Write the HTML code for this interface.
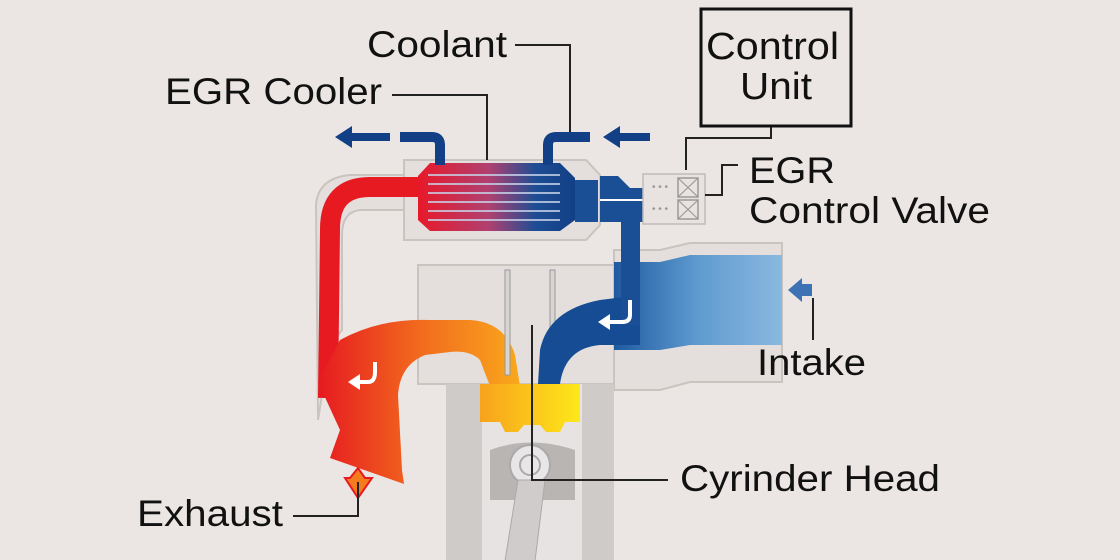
<!DOCTYPE html>
<html><head><meta charset="utf-8"><style>
html,body{margin:0;padding:0;background:#ebe6e3;}
svg{display:block;}
text{font-family:"Liberation Sans",sans-serif;fill:#111;}
</style></head><body>
<svg width="1120" height="560" viewBox="0 0 1120 560" xmlns="http://www.w3.org/2000/svg">
<defs>
<linearGradient id="cool" x1="0" x2="1" y1="0" y2="0">
<stop offset="0" stop-color="#e8192a"/><stop offset="0.45" stop-color="#b04070"/><stop offset="0.75" stop-color="#1d4d94"/><stop offset="1" stop-color="#123f85"/></linearGradient>
<linearGradient id="exh" x1="0" x2="1" y1="0" y2="0">
<stop offset="0" stop-color="#e61a20"/><stop offset="0.5" stop-color="#f26a1e"/><stop offset="1" stop-color="#f9a81c"/></linearGradient>
<linearGradient id="cham" x1="0" x2="1"><stop offset="0" stop-color="#f8a21c"/><stop offset="1" stop-color="#fde81a"/></linearGradient>
<linearGradient id="intk" x1="0" x2="1"><stop offset="0" stop-color="#1f5aa0"/><stop offset="0.5" stop-color="#5f9bd0"/><stop offset="1" stop-color="#8ab8df"/></linearGradient>
</defs>
<rect width="1120" height="560" fill="#ebe6e3"/>

<path d="M404 160 L586 160 L600 175 L600 225 L586 240 L404 240 Z" fill="#e4dfdc" stroke="#c9c4c0" stroke-width="2"/>
<path d="M418 265 L614 265 L614 384 L418 384 Z" fill="#e4dfdc" stroke="#c9c4c0" stroke-width="2"/>
<path d="M614 250 L660 250 L690 243 L782 243 L782 382 L690 382 L660 390 L614 390 Z" fill="#e4dfdc" stroke="#c9c4c0" stroke-width="2"/>
<path d="M316 205 Q318 178 350 175 L404 175 L404 210 L360 210 Q342 212 342 235 L342 330 L330 345 L322 395 L318 420 Z" fill="#e4dfdc" stroke="#c9c4c0" stroke-width="2"/>

<path d="M420 187 L370 187 Q330 187 330 229 L328 398" fill="none" stroke="#e61a20" stroke-width="20"/>
<path d="M318 382 L340 340 Q380 318 430 320 L470 320 Q505 322 515 355 L520 386 L490 386 L480 360 Q470 350 450 352 L425 355 Q400 365 398 395 L402 470 L404 484 L330 458 L340 430 Z" fill="url(#exh)"/>
<path d="M348 382 L360 374 L360 390 Z" fill="#fff"/>
<path d="M358 382 L368 382 Q375 382 375 372 L375 362" fill="none" stroke="#fff" stroke-width="4"/>
<path d="M350 478 L358 468 L365 478 L372 478 L358 498 L345 478 Z" fill="#f47b1e" stroke="#e61a20" stroke-width="2"/>

<rect x="446" y="384" width="168" height="177" fill="#cfcbc8"/>
<rect x="482" y="384" width="100" height="177" fill="#e6e3e2"/>
<path d="M480 384 L580 384 L580 422 L565 422 L560 432 L546 432 L540 425 L524 425 L518 432 L505 432 L500 422 L480 422 Z" fill="url(#cham)"/>
<path d="M490 450 Q530 435 575 450 L575 500 L490 500 Z" fill="#b9b5b3"/>
<circle cx="530" cy="465" r="20" fill="#e8e6e6" stroke="#aaa" stroke-width="2"/>
<circle cx="530" cy="465" r="10" fill="none" stroke="#aaa" stroke-width="2"/>
<path d="M518 480 L545 480 L535 561 L505 561 Z" fill="#cfcccb" stroke="#aaa" stroke-width="1"/>
<rect x="505" y="270" width="5" height="105" fill="#d8d4d2" stroke="#999" stroke-width="1"/>
<rect x="550" y="270" width="5" height="105" fill="#d8d4d2" stroke="#999" stroke-width="1"/>

<path d="M614 262 L660 262 L690 255 L782 255 L782 345 L690 345 L660 350 L614 350 Z" fill="url(#intk)"/>
<path d="M538 384 L540 350 Q548 310 600 300 L640 295 L640 345 L600 345 Q565 348 560 384 Z" fill="#154c93"/>
<rect x="621" y="195" width="19" height="130" fill="#1a4f96"/>
<path d="M630 300 L630 315 Q630 322 622 322 L608 322" fill="none" stroke="#fff" stroke-width="4"/>
<path d="M598 322 L610 314 L610 330 Z" fill="#fff"/>
<path d="M788 290 L802 278 L802 284 L812 284 L812 296 L802 296 L802 302 Z" fill="#3d72b5"/>

<path d="M430 163 L560 163 L575 178 L575 220 L560 231 L430 231 L418 220 L418 176 Z" fill="url(#cool)"/>
<g stroke="#c9d4ea" stroke-width="2" opacity="0.8">
<line x1="428" y1="175" x2="560" y2="175"/><line x1="428" y1="184" x2="560" y2="184"/><line x1="428" y1="193" x2="560" y2="193"/><line x1="428" y1="202" x2="560" y2="202"/><line x1="428" y1="211" x2="560" y2="211"/><line x1="428" y1="220" x2="560" y2="220"/>
</g>
<path d="M575 180 L598 180 L598 222 L575 222 Z" fill="#1a4f96"/>
<path d="M600 176 L618 176 L630 188 L643 188 L643 222 L600 222 Z" fill="#1a4f96"/>
<line x1="600" y1="200" x2="645" y2="200" stroke="#fff" stroke-width="2"/>
<rect x="643" y="174" width="62" height="50" fill="#e8e3e0" stroke="#c0bbb8" stroke-width="1.5"/>
<rect x="678" y="178" width="20" height="19" fill="none" stroke="#999" stroke-width="1.5"/>
<rect x="678" y="200" width="20" height="19" fill="none" stroke="#999" stroke-width="1.5"/>
<path d="M678 178 L698 197 M698 178 L678 197 M678 200 L698 219 M698 200 L678 219" stroke="#999" stroke-width="1.2"/>
<text x="652" y="190" font-size="10" style="fill:#999">• • •</text>
<text x="652" y="212" font-size="10" style="fill:#999">• • •</text>

<path d="M400 137 L432 137 Q440 137 440 145 L440 165" fill="none" stroke="#123f85" stroke-width="10"/>
<path d="M548 165 L548 145 Q548 137 556 137 L590 137" fill="none" stroke="#123f85" stroke-width="10"/>
<path d="M335 137 L352 126 L352 133 L390 133 L390 141 L352 141 L352 148 Z" fill="#123f85"/>
<path d="M603 137 L620 126 L620 133 L650 133 L650 141 L620 141 L620 148 Z" fill="#123f85"/>

<g fill="none" stroke="#222" stroke-width="2">
<polyline points="515,45 570,45 570,132"/>
<polyline points="392,95 487,95 487,160"/>
<polyline points="771,127 771,138 686,138 686,170"/>
<polyline points="705,195 722,195 722,165 738,165"/>
<line x1="813" y1="298" x2="813" y2="340"/>
<polyline points="532,325 532,480 668,480"/>
<polyline points="293,516 358,516 358,482"/>
</g>
<rect x="701" y="9" width="150" height="117" fill="none" stroke="#111" stroke-width="3"/>

<text x="367" y="57" font-size="37" textLength="140" lengthAdjust="spacingAndGlyphs">Coolant</text>
<text x="165" y="104" font-size="37" textLength="217" lengthAdjust="spacingAndGlyphs">EGR Cooler</text>
<text x="706" y="59" font-size="38" textLength="133" lengthAdjust="spacingAndGlyphs">Control</text>
<text x="740" y="99" font-size="38" textLength="72" lengthAdjust="spacingAndGlyphs">Unit</text>
<text x="749" y="183" font-size="37" textLength="86" lengthAdjust="spacingAndGlyphs">EGR</text>
<text x="749" y="223" font-size="37" textLength="241" lengthAdjust="spacingAndGlyphs">Control Valve</text>
<text x="757" y="375" font-size="37" textLength="109" lengthAdjust="spacingAndGlyphs">Intake</text>
<text x="680" y="491" font-size="37" textLength="260" lengthAdjust="spacingAndGlyphs">Cyrinder Head</text>
<text x="137" y="526" font-size="37" textLength="146" lengthAdjust="spacingAndGlyphs">Exhaust</text>
</svg>
</body></html>
